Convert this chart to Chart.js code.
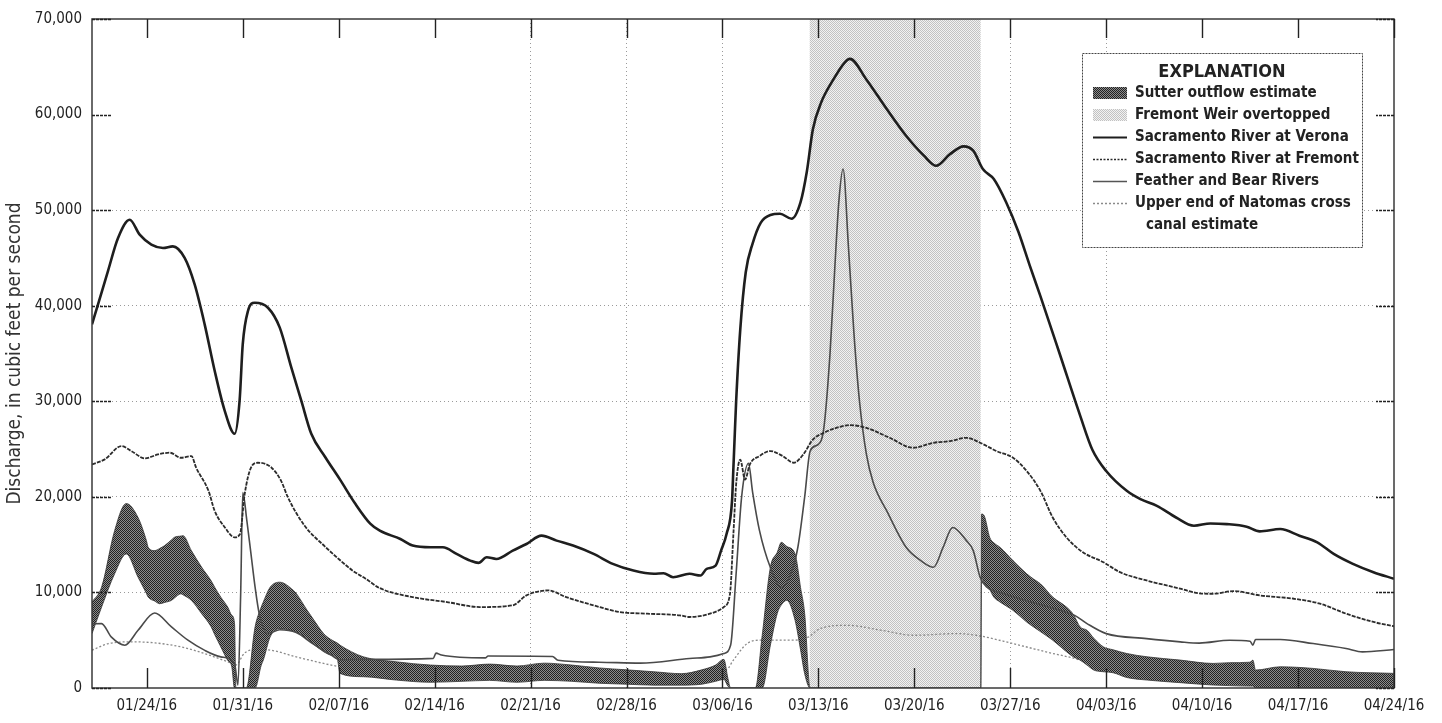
<!DOCTYPE html>
<html><head><meta charset="utf-8">
<script src="https://cdn.jsdelivr.net/npm/chart.js@4.4.1/dist/chart.umd.min.js"></script>
<style>html,body{margin:0;padding:0;background:#fff;overflow:hidden}canvas{display:block}</style>
</head><body>
<canvas id="c" width="1442" height="723"></canvas>
<script>
// x values are days since 01/20/16
const tickDays = [4,11,18,25,32,39,46,53,60,67,74,81,88,95];
const tickLabels = ['01/24/16','01/31/16','02/07/16','02/14/16','02/21/16','02/28/16','03/06/16','03/13/16','03/20/16','03/27/16','04/03/16','04/10/16','04/17/16','04/24/16'];
const gridDays = [32,39,46,67,74];
const gridValues = [10000,20000,30000,40000,50000];

const veronaDays = [0,0.44,1.17,1.9,2.75,3.48,4.33,5.18,5.9,6.76,7.49,8.22,8.95,9.68,10.41,10.77,11.0,11.38,11.87,12.84,13.7,14.54,15.27,16.0,17,18.1,19.2,20.3,21.0,22.5,23.4,24.7,25.6,26.6,27.6,28.2,28.8,29.5,30.7,31.7,32.8,33.9,35.1,36.6,38.0,39.5,41.0,41.7,42.4,43.6,44.4,44.85,45.5,45.9,46.3,46.7,46.8,46.9,47.0,47.3,47.7,48.2,48.8,49.5,50.2,51.05,51.7,52.15,52.6,53.2,54.1,54.9,55.3,56.5,58.0,59.4,60.7,61.6,62.6,63.6,64.3,65.0,65.8,66.7,67.6,68.4,69.2,70.6,72.1,73.0,74.0,75.5,76.5,77.7,79.1,80.4,81.6,82.8,84.25,85.2,86.7,88.1,89.4,90.6,92.0,93.5,95.0];
const veronaFlow = [38050,40140,43650,47080,48990,47430,46390,46040,46210,45000,42220,38050,33200,29030,26600,30070,35970,39450,40310,39790,37710,33540,30070,26600,24200,21800,19300,17200,16460,15590,14900,14720,14720,14030,13330,13090,13680,13500,14380,15070,15940,15420,14900,14030,12990,12290,11950,12010,11590,11950,11770,12470,12810,14375,16110,19580,23050,26560,30000,37500,43500,46500,48700,49500,49620,49100,50830,53960,58470,61250,63680,65420,65830,63680,60550,57780,55700,54650,55860,56670,56220,54300,53260,50830,47710,44300,41000,35000,28500,24900,22700,20630,19760,19060,17840,16980,17220,17150,16880,16390,16630,15940,15240,14030,12990,12120,11430];

const fremontDays = [0,0.93,2.14,2.87,3.85,4.82,5.67,6.5,7.25,7.6,8.5,8.95,9.7,10.4,10.8,11.14,11.6,12.1,13.1,13.8,14.3,15.5,17,18,19,20,21,23.4,25.9,28.3,30.7,31.7,33.3,34.6,36.6,38.5,40.5,42.9,43.6,45.1,46.1,46.55,46.8,47.0,47.3,47.65,48.0,48.7,49.5,50.4,51.2,51.9,52.6,53.4,54.3,55.3,56.5,58.2,59.9,61.4,62.6,63.8,64.8,66.0,67.2,68.2,69.2,70.1,71.1,72.3,73.8,75.0,76.95,79.4,80.8,81.8,83.3,85.2,87.7,89.6,91.5,93.5,95.0];
const fremontFlow = [23400,23920,25310,24790,24030,24440,24620,24090,24270,23050,20630,18540,16800,15760,16110,20280,23050,23570,23050,21670,19930,17000,14800,13500,12300,11400,10450,9510,8990,8470,8650,9690,10210,9510,8650,7950,7780,7600,7430,7780,8470,9860,16110,21320,23900,21800,23400,24270,24790,24270,23570,24440,26000,26700,27220,27500,27220,26180,25140,25660,25830,26180,25660,24790,24090,22700,20630,17840,15760,14200,13160,12120,11250,10400,9900,9860,10140,9690,9340,8820,7780,6910,6460];

const featherDays = [0,0.7,1.4,2.4,3.36,4.57,5.8,7.0,8.2,9.4,10.4,10.65,10.85,11.0,11.3,11.6,11.9,12.2,12.85,13.7,14.9,16.1,17.4,18.1,20,24.9,25.1,25.5,28.7,28.9,33.6,34,37,40,43.6,45.1,46.1,46.6,47.0,47.4,47.9,48.2,48.7,49.5,50.3,51.0,51.5,52.0,52.4,53.0,53.4,53.85,54.2,54.5,54.8,55.2,55.6,56.0,56.5,57.0,58.0,59.4,60.5,61.4,62.1,62.8,63.8,64.3,64.8,65.3,66.5,68,69.5,70.7,71.7,72.6,74,76.95,79.4,80.8,83,84.5,84.7,84.9,86.7,89.1,91.5,92.7,95];
const featherFlow = [6700,6740,5350,4480,6040,7850,6390,5000,3960,3260,2570,300,10000,20450,17500,14030,10550,7780,5690,6100,5800,4650,3500,2950,3000,3100,3650,3450,3150,3350,3300,2900,2700,2600,3090,3260,3610,4500,12000,20000,23500,20500,16500,12600,10500,12000,14700,20000,24800,25500,27220,35000,44000,51000,54300,46000,37000,30000,24500,21500,18500,14720,13300,12640,14720,16800,15420,14375,11600,10550,9900,9200,8600,8100,7600,6740,5690,5170,4830,4700,5000,4900,4480,5070,5070,4650,4130,3780,4030];

const natomasDays = [0,1.2,2.9,4.6,6.5,8.2,9.9,10.5,11.1,11.9,13.0,14.9,16.9,18.1,20,25,30,35,40,44,46.3,46.8,47.8,48.7,51.2,52.3,53.1,55.1,57.6,60,63.1,64.5,67.2,69.6,72.1,74,77,81,85,90,95];
const natomasFlow = [3960,4650,4830,4720,4300,3610,2740,2400,3610,4030,3960,3260,2570,2220,1900,1600,1500,1400,1300,1400,1900,2920,4650,5000,5000,5350,6210,6560,6040,5520,5690,5520,4650,3780,2920,1875,1500,1300,1200,1050,900];

const sutterDays = [0,0.7,1.65,2.5,3.36,3.97,4.1,4.57,4.94,5.3,5.8,6.0,6.5,6.64,7.25,8.0,8.7,8.95,9.4,9.9,10.2,10.4,10.5,11.26,11.9,12.35,12.5,13.0,13.7,14.7,14.9,15.7,16.1,16.9,17.4,17.9,18.1,19.8,22.2,24.7,27,29,31,33,35,37,39,41,43,44.5,45.5,46.1,46.4,46.6,48.4,48.9,49.5,50.0,50.3,50.7,51.3,51.7,52.0,52.4,64.85,64.9,65.1,65.5,65.8,66.25,67.2,68.2,68.7,69.2,70.1,71.1,71.6,72.1,72.6,73.1,73.8,74.5,75.5,77.0,79.4,81.8,83.0,84.5,84.7,84.9,86.7,89.1,91.5,95];
const sutterHigh = [8990,10550,16460,19300,17840,15420,14720,14375,14600,14900,15500,15760,15900,15940,14375,12640,11200,10550,9500,8470,7600,6740,0,0,6390,8470,9000,10550,11070,10210,9900,8125,7300,5690,5100,4700,4480,3260,2740,2400,2300,2500,2300,2600,2400,2100,1900,1700,1500,1900,2400,3000,1000,0,0,5500,12640,14200,15240,14800,14030,10500,7780,0,0,18200,18020,15760,15200,14720,13330,11950,11400,10900,9510,8470,7700,6390,6040,5200,4300,4000,3610,3260,2920,2570,2650,2700,2920,1875,2220,2050,1700,1530];
const sutterLow = [5690,8470,11950,14030,11600,9900,9510,9100,8820,8950,9170,9400,9860,9750,9170,7780,6390,5600,4300,2900,2220,0,0,0,0,2400,2920,5350,6210,5950,5870,5100,4650,3800,3440,3000,1530,1180,830,600,700,800,600,800,700,500,400,300,300,400,700,900,200,0,0,0,4500,7800,8700,9170,7080,4000,1500,0,0,11600,11000,10300,9510,9000,8125,6900,6390,5900,5000,3800,3260,2920,2400,1875,1700,1600,1100,830,560,310,250,200,200,0,0,0,0,0];

const weirDays = [52.35,64.85];
const weirTop = [70000,70000];

const FONT = "'Liberation Sans Narrow','Arial Narrow','DejaVu Sans Condensed',sans-serif";

function makePattern(a, b) {
  const c = document.createElement('canvas'); c.width = 2; c.height = 2;
  const g = c.getContext('2d');
  g.fillStyle = b; g.fillRect(0,0,2,2);
  g.fillStyle = a; g.fillRect(0,0,1,1); g.fillRect(1,1,1,1);
  return g.createPattern(c,'repeat');
}
const hatch = makePattern('#222222','#8c8c8c');
const stipple = makePattern('#c2c2c2','#f2f2f2');

const pts = (d, v) => d.map((x,i)=>({x:x, y:v[i]}));

const framePlugin = {
  id: 'frame',
  afterDatasetsDraw(chart) {
    const {ctx, chartArea:a, scales:{x, y}} = chart;
    ctx.save();
    ctx.strokeStyle = '#3a3a3a'; ctx.lineWidth = 1.5;
    ctx.strokeRect(a.left, a.top, a.right-a.left, a.bottom-a.top);
    ctx.lineWidth = 1.4; ctx.strokeStyle = '#222';
    ctx.beginPath();
    tickDays.forEach(d => {
      const px = Math.round(x.getPixelForValue(d)) + 0.5;
      ctx.moveTo(px, a.bottom); ctx.lineTo(px, a.bottom - 20);
      ctx.moveTo(px, a.top); ctx.lineTo(px, a.top + 19);
    });
    ctx.stroke();
    ctx.setLineDash([3,1]);
    ctx.beginPath();
    for (let v = 0; v <= 70000; v += 10000) {
      const py = Math.round(y.getPixelForValue(v)) + 0.5;
      ctx.moveTo(a.left, py); ctx.lineTo(a.left + 20, py);
      ctx.moveTo(a.right, py); ctx.lineTo(a.right - 18, py);
    }
    ctx.stroke();
    ctx.restore();
  },
  afterDraw(chart) {
    const ctx = chart.ctx;
    ctx.save();
    const x0 = 1082, y0 = 53, w = 280, h = 194;
    ctx.fillStyle = '#fff'; ctx.fillRect(x0, y0, w, h);
    ctx.strokeStyle = '#444'; ctx.lineWidth = 1; ctx.setLineDash([2,1]);
    ctx.strokeRect(x0+0.5, y0+0.5, w, h); ctx.setLineDash([]);
    ctx.fillStyle = '#222'; ctx.textBaseline = 'middle';
    ctx.font = "bold 18px " + FONT; ctx.textAlign = 'center';
    ctx.fillText('EXPLANATION', 1222, 72);
    ctx.textAlign = 'left'; ctx.font = "bold 15px " + FONT;
    const rows = [
      ['Sutter outflow estimate','hatch'],
      ['Fremont Weir overtopped','stipple'],
      ['Sacramento River at Verona','verona'],
      ['Sacramento River at Fremont','fremont'],
      ['Feather and Bear Rivers','feather'],
      ['Upper end of Natomas cross','natomas']
    ];
    rows.forEach((r, i) => {
      const cy = 93 + i*22;
      ctx.fillStyle = '#222';
      ctx.fillText(r[0], 1135, cy);
      if (r[1] === 'hatch' || r[1] === 'stipple') {
        ctx.fillStyle = r[1] === 'hatch' ? hatch : stipple;
        ctx.fillRect(1093, cy-6, 34, 12);
      } else {
        const st = {verona:['#1e1e1e',2,[]], fremont:['#2a2a2a',1.6,[2,1.5]], feather:['#555',1.5,[]], natomas:['#8a8a8a',1.3,[2,2]]}[r[1]];
        ctx.strokeStyle = st[0]; ctx.lineWidth = st[1]; ctx.setLineDash(st[2]);
        ctx.beginPath(); ctx.moveTo(1093, cy+0.5); ctx.lineTo(1127, cy+0.5); ctx.stroke();
        ctx.setLineDash([]);
      }
    });
    ctx.fillStyle = '#222';
    ctx.fillText('canal estimate', 1146, 93 + 6*22);
    ctx.restore();
  }
};

new Chart(document.getElementById('c'), {
  type: 'line',
  data: {
    datasets: [
      {label:'Sacramento River at Verona', data: pts(veronaDays, veronaFlow), borderColor:'#1e1e1e', borderWidth:2.6, order:0, fill:false},
      {label:'Sacramento River at Fremont', data: pts(fremontDays, fremontFlow), borderColor:'#2c2c2c', borderWidth:1.8, borderDash:[4,1.2], order:1, fill:false},
      {label:'Feather and Bear Rivers', data: pts(featherDays, featherFlow), borderColor:'#4a4a4a', borderWidth:1.6, order:2, fill:false},
      {label:'Sutter low', data: pts(sutterDays, sutterLow), borderColor:'#333', borderWidth:0.8, order:3, fill:false},
      {label:'Sutter outflow estimate', data: pts(sutterDays, sutterHigh), borderColor:'#333', borderWidth:0.8, backgroundColor: hatch, order:3, fill:'-1'},
      {label:'Upper end of Natomas cross canal estimate', data: pts(natomasDays, natomasFlow), borderColor:'#8a8a8a', borderWidth:1.3, borderDash:[2,2], order:5, fill:false},
      {label:'Fremont Weir overtopped', data: pts(weirDays, weirTop), borderWidth:0, borderColor:'rgba(0,0,0,0)', backgroundColor: stipple, order:6, fill:'origin'}
    ]
  },
  options: {
    responsive: false, animation: false, devicePixelRatio: 1,
    layout: {padding: {left:0, right:48, top:16, bottom:0}},
    elements: {point: {radius:0, hoverRadius:0}, line: {tension:0, cubicInterpolationMode:'monotone'}},
    plugins: {legend:{display:false}, tooltip:{enabled:false}},
    scales: {
      x: {
        type:'linear', min:0, max:95,
        afterBuildTicks: s => { s.ticks = tickDays.map(v => ({value:v})); },
        afterFit: s => { s.height = 35; },
        ticks: {autoSkip:false, maxRotation:0, padding:9, color:'#222',
          font:{family:FONT, size:15},
          callback: v => tickLabels[tickDays.indexOf(v)] || ''},
        grid: {drawTicks:false, lineWidth:1,
          color: c => (c.tick && gridDays.includes(c.tick.value)) ? '#9a9a9a' : 'rgba(0,0,0,0)'},
        border: {display:false, dash:[1,3]}
      },
      y: {
        min:0, max:70000,
        afterBuildTicks: s => { s.ticks = [0,10000,20000,30000,40000,50000,60000,70000].map(v => ({value:v})); },
        afterFit: s => { s.width = 92; },
        ticks: {padding:10, color:'#222', font:{family:FONT, size:15},
          callback: v => v.toLocaleString('en-US')},
        grid: {drawTicks:false, lineWidth:1,
          color: c => (c.tick && gridValues.includes(c.tick.value)) ? '#9a9a9a' : 'rgba(0,0,0,0)'},
        border: {display:false, dash:[1,3]},
        title: {display:true, text:'Discharge, in cubic feet per second', color:'#333',
          font:{family:FONT, size:19}, padding:{top:4, bottom:0}}
      }
    }
  },
  plugins: [framePlugin]
});
</script>
</body></html>
